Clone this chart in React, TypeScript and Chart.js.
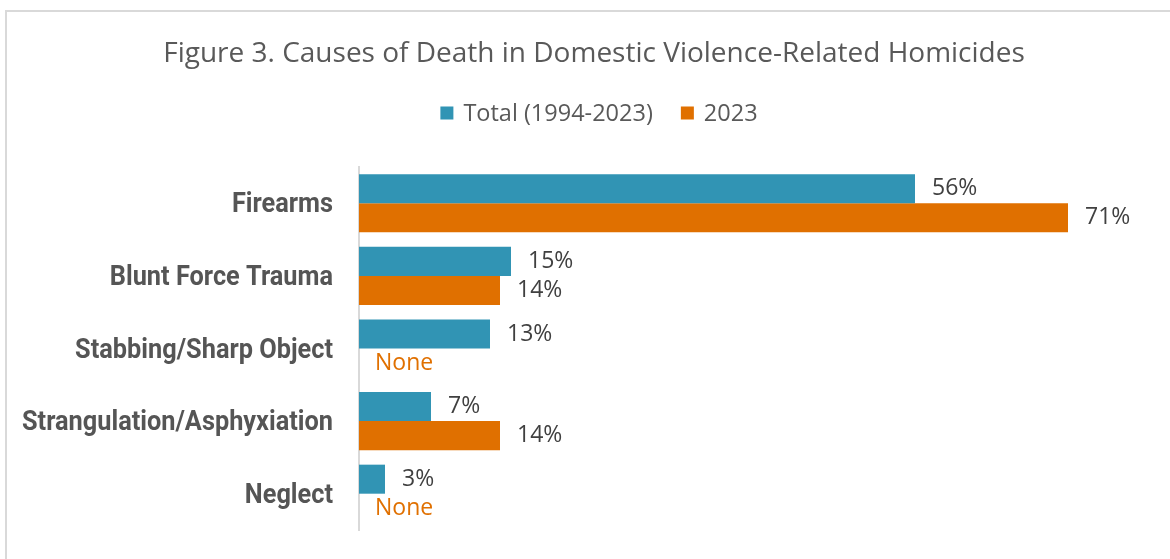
import React, { useEffect, useRef } from "react";
import { Chart, registerables } from "chart.js";

Chart.register(...registerables);

const titleText = "Figure 3. Causes of Death in Domestic Violence-Related Homicides";
const categories = [
  "Firearms",
  "Blunt Force Trauma",
  "Stabbing/Sharp Object",
  "Strangulation/Asphyxiation",
  "Neglect",
];
const seriesNames = ["Total (1994-2023)", "2023"];
const totalValues: (number | null)[] = [55.6, 15.2, 13.1, 7.2, 2.6];
const values2023: (number | null)[] = [70.9, 14.1, null, 14.1, null];
const seriesColors = ["#3194b4", "#e07000"];
const xMax = 80;

const CANVAS_W = 1188;
const CANVAS_H = 559;

// Data labels at the end of each bar ("None" for empty values)
const labelPlugin = {
  id: "barLabels",
  afterDatasetsDraw(chart: any) {
    const ctx = chart.ctx;
    const xScale = chart.scales.x;
    ctx.save();
    ctx.font = "23px 'Open Sans', sans-serif";
    ctx.textBaseline = "middle";
    ctx.textAlign = "left";
    chart.data.datasets.forEach((ds: any, di: number) => {
      const meta = chart.getDatasetMeta(di);
      meta.data.forEach((bar: any, i: number) => {
        const v = ds.data[i];
        if (v === null || v === undefined) {
          ctx.fillStyle = seriesColors[di];
          ctx.fillText("None", xScale.getPixelForValue(0) + 16, bar.y);
        } else {
          ctx.fillStyle = "#404040";
          ctx.fillText(Math.round(v) + "%", bar.x + 17, bar.y);
        }
      });
    });
    ctx.restore();
  },
};

// Condensed bold category labels on the y axis
const yLabelPlugin = {
  id: "yLabels",
  afterDraw(chart: any) {
    const ctx = chart.ctx;
    const yScale = chart.scales.y;
    const right = chart.chartArea.left - 26;
    ctx.save();
    ctx.font = "bold 28px Roboto, sans-serif";
    ctx.fillStyle = "#555555";
    ctx.textBaseline = "middle";
    ctx.textAlign = "right";
    const widest = Math.max(...categories.map((c) => ctx.measureText(c).width));
    const sx = 311 / widest;
    categories.forEach((c, i) => {
      const y = yScale.getPixelForValue(i);
      ctx.save();
      ctx.translate(right, y);
      ctx.scale(sx, 1);
      ctx.fillText(c, 0, 2);
      ctx.restore();
    });
    ctx.restore();
  },
};

// Legend drawn centred under the title
const legendPlugin = {
  id: "customLegend",
  afterDraw(chart: any) {
    const ctx = chart.ctx;
    const box = 13;
    const gap = 10;
    const itemGap = 28;
    const cy = 113;
    const cx = 599;
    ctx.save();
    ctx.font = "23.5px 'Open Sans', sans-serif";
    ctx.textBaseline = "middle";
    ctx.textAlign = "left";
    const widths = seriesNames.map((n) => ctx.measureText(n).width);
    const total =
      widths.reduce((a, w) => a + box + gap + w, 0) + itemGap * (seriesNames.length - 1);
    let x = cx - total / 2;
    seriesNames.forEach((n, i) => {
      ctx.fillStyle = seriesColors[i];
      ctx.fillRect(x, cy - box / 2, box, box);
      ctx.fillStyle = "#595959";
      ctx.fillText(n, x + box + gap, cy + 1);
      x += box + gap + widths[i] + itemGap;
    });
    ctx.restore();
  },
};

export default function App() {
  const ref = useRef<HTMLCanvasElement>(null);
  useEffect(() => {
    if (!ref.current) return;
    const chart = new Chart(ref.current, {
      type: "bar",
      data: {
        labels: categories,
        datasets: [
          { label: seriesNames[0], data: totalValues, backgroundColor: seriesColors[0] },
          { label: seriesNames[1], data: values2023, backgroundColor: seriesColors[1] },
        ],
      },
      options: {
        indexAxis: "y",
        responsive: false,
        animation: false,
        layout: { padding: { left: 29, right: 29, top: 0, bottom: 29 } },
        datasets: { bar: { barPercentage: 1, categoryPercentage: 0.8 } },
        scales: {
          x: { display: false, min: 0, max: xMax },
          y: {
            grid: { display: false, drawTicks: false },
            border: { display: true, color: "#d9d9d9", width: 2 },
            ticks: { display: false },
            afterFit(scale: any) {
              scale.width = 330;
            },
          },
        },
        plugins: {
          tooltip: { enabled: false },
          legend: { display: false },
          title: {
            display: true,
            text: titleText,
            color: "#595959",
            font: { family: "'Open Sans', sans-serif", size: 28, weight: "normal" },
            padding: { top: 37, bottom: 96.4 },
          },
        },
      } as any,
      plugins: [labelPlugin, yLabelPlugin, legendPlugin],
    });
    return () => chart.destroy();
  }, []);
  return (
    <div
      style={{
        position: "absolute",
        left: 0,
        top: 0,
        width: 1170,
        height: 559,
        overflow: "hidden",
        background: "#fff",
      }}
    >
      <div
        style={{
          position: "absolute",
          left: 5,
          top: 10,
          width: 1165,
          height: 549,
          boxSizing: "border-box",
          borderLeft: "2px solid #d9d9d9",
          borderTop: "2px solid #d9d9d9",
        }}
      />
      <canvas
        ref={ref}
        width={CANVAS_W}
        height={CANVAS_H}
        style={{ position: "absolute", left: 0, top: 0 }}
      />
    </div>
  );
}
